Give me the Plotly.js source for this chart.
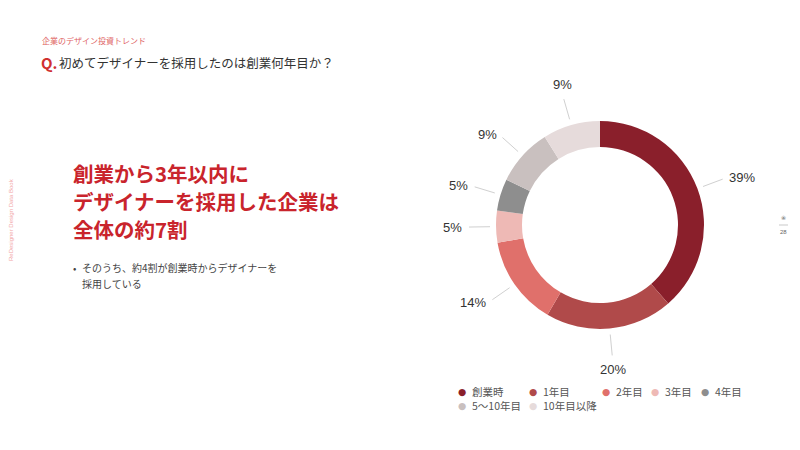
<!DOCTYPE html>
<html><head><meta charset="utf-8">
<script src="https://cdn.plot.ly/plotly-3.0.1.min.js"></script>
<style>html,body{margin:0;padding:0;background:#fff;}#chart{width:800px;height:450px;}</style>
</head><body><div id="chart"></div>
<script>
// Data
const categories = ["創業時", "1年目", "2年目", "3年目", "4年目", "5〜10年目", "10年目以降"];
const shares = [39, 20, 14, 5, 5, 9, 9];
const colors = ["#8a1f2b", "#b04a4a", "#e0706b", "#eeb9b5", "#8e8e8e", "#c9c0bf", "#e6dbdb"];

const W = 800, H = 450;
const px = x => x / W, py = y => 1 - y / H;
const FONT = "Noto Sans CJK JP";
// donut geometry (layout)
const cx = 600, cy = 225, R = 104;

const annotations = [];
const shapes = [];
function txt(x, y, text, opts) {
  annotations.push(Object.assign({xref:'paper', yref:'paper', x:px(x), y:py(y), text:text,
    showarrow:false, xanchor:'left', yanchor:'middle',
    font:{family:FONT, size:12, color:'#333'}}, opts || {}));
}

// Header texts
txt(40, 40, "企業のデザイン投資トレンド", {font:{family:FONT, size:8, color:'#e06565'}});
txt(39, 62, "<b>Q.</b>", {font:{family:FONT, size:15, color:'#d03030'}});
txt(57, 62, "初めてデザイナーを採用したのは創業何年目か？", {font:{family:FONT, size:12.5, color:'#333'}});
// Headline
const headline = ["創業から3年以内に", "デザイナーを採用した企業は", "全体の約7割"];
headline.forEach((t, i) => txt(71, 173 + i * 28, "<b>" + t + "</b>", {font:{family:FONT, size:20.5, color:'#c9242c'}}));
// Bullet
txt(71, 267, "•", {font:{family:FONT, size:10, color:'#444'}});
txt(80, 267, "そのうち、約4割が創業時からデザイナーを", {font:{family:FONT, size:10, color:'#444'}});
txt(80, 283, "採用している", {font:{family:FONT, size:10, color:'#444'}});
// Vertical side text
txt(11, 220, "ReDesigner Design Data Book", {xanchor:'center', textangle:-90, font:{family:"Liberation Sans", size:6, color:'#f2a7a7'}});
// page number
txt(783, 217, "❀", {xanchor:'center', font:{family:"DejaVu Sans", size:6, color:'#999'}});
shapes.push({type:'line', xref:'paper', yref:'paper', x0:px(779), x1:px(788), y0:py(225), y1:py(225), line:{color:'#bbb', width:0.8}});
txt(783, 232, "28", {xanchor:'center', font:{family:"Liberation Sans", size:6, color:'#666'}});

// Pie labels with leader lines
const total = shares.reduce((a, b) => a + b, 0);
let cum = 0;
shares.forEach((v, i) => {
  const mid = (cum + v / 2) / total * 2 * Math.PI;
  cum += v;
  const s = Math.sin(mid), c = Math.cos(mid);
  const pt = r => [cx + r * s, cy - r * c];
  const a = pt(110), b = pt(131), t = pt(136);
  shapes.push({type:'line', xref:'paper', yref:'paper', x0:px(a[0]), y0:py(a[1]), x1:px(b[0]), y1:py(b[1]), line:{color:'#d0d0d0', width:1}});
  const xa = s > 0.3 ? 'left' : (s < -0.3 ? 'right' : 'center');
  const ya = c > 0.75 ? 'bottom' : (c < -0.75 ? 'top' : 'middle');
  txt(t[0], t[1], Math.round(v / total * 100) + "%", {xanchor:xa, yanchor:ya, font:{family:"Liberation Sans", size:13, color:'#333'}});
});

// Legend (custom, circle markers)
const legendPos = [[462,391],[533,391],[606,391],[655,391],[705,391],[462,405],[533,405]];
categories.forEach((cat, i) => {
  const p = legendPos[i];
  txt(p[0], p[1], "●", {xanchor:'center', font:{family:"DejaVu Sans", size:9.5, color:colors[i]}});
  txt(p[0] + 8, p[1], cat, {font:{family:FONT, size:10.5, color:'#555'}});
});

const trace = {
  type:'pie', values:shares, labels:categories, sort:false, direction:'clockwise', rotation:0,
  hole:0.75, textinfo:'none', hoverinfo:'none', showlegend:false,
  marker:{colors:colors, line:{width:0}},
  domain:{x:[px(cx - R), px(cx + R)], y:[py(cy + R), py(cy - R)]}
};

Plotly.newPlot('chart', [trace], {
  width:W, height:H, margin:{l:0, r:0, t:0, b:0},
  paper_bgcolor:'#fff', plot_bgcolor:'#fff', showlegend:false,
  annotations:annotations, shapes:shapes
}, {staticPlot:true, displayModeBar:false});
</script></body></html>
